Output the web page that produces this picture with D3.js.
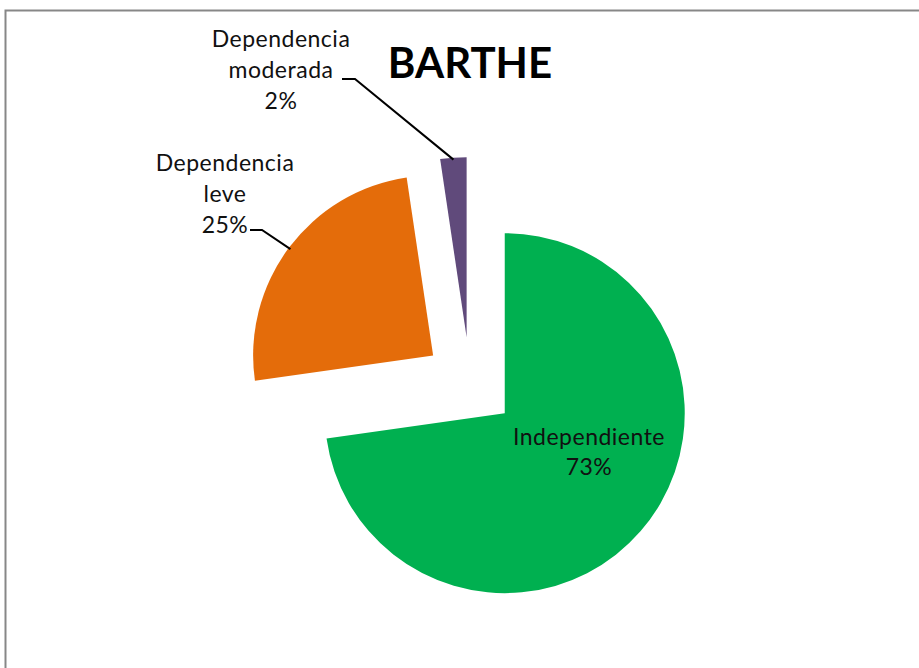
<!DOCTYPE html>
<html><head><meta charset="utf-8">
<script src="https://cdn.jsdelivr.net/npm/d3@7"></script>
<style>html,body{margin:0;padding:0;background:#fff;}svg{display:block;}</style>
</head><body>
<svg id="c" width="919" height="668"></svg>
<script>
const categories = ["Independiente", "Dependencia leve", "Dependencia moderada"];
const values = [72.75, 24.9, 2.35];
const percentLabels = ["73%", "25%", "2%"];
const labelLines = [["Independiente", "73%"], ["Dependencia", "leve", "25%"], ["Dependencia", "moderada", "2%"]];
const colors = ["#00B050", "#E46C0A", "#604A7B"];
const title = "BARTHE";

const svg = d3.select("#c");
const W = 919, H = 668;
const cx = 470, cy = 383, R = 180, explode = 46;
const font = "Lato, 'Open Sans', sans-serif";

// outer border
svg.append("rect").attr("x", 5.5).attr("y", 10.5).attr("width", 1000).attr("height", 1000)
  .attr("fill", "none").attr("stroke", "#878787").attr("stroke-width", 2);

const pie = d3.pie().sort(null).value(d => d).startAngle(0).endAngle(2 * Math.PI);
const arcs = pie(values);
const arc = d3.arc().innerRadius(0).outerRadius(R);

const g = svg.append("g").attr("transform", `translate(${cx},${cy})`);
function offset(d, dist) {
  const a = (d.startAngle + d.endAngle) / 2;
  return [Math.sin(a) * dist, -Math.cos(a) * dist];
}
g.selectAll("path.slice").data(arcs).enter().append("path")
  .attr("class", "slice")
  .attr("d", arc)
  .attr("fill", (d, i) => colors[i])
  .attr("transform", d => { const o = offset(d, explode); return `translate(${o[0]},${o[1]})`; });

// title
svg.append("text").attr("x", 470).attr("y", 78).attr("text-anchor", "middle")
  .attr("font-family", font).attr("font-weight", "bold").attr("font-size", 42)
  .attr("fill", "#000").text(title);

// labels
const labelPos = [
  { x: 589, y: 445, line: null },
  { x: 225, y: 171, line: [[250, 230], [262, 230]] },
  { x: 281, y: 47, line: [[342, 79], [355, 79]] }
];
const lineH = 31;
arcs.forEach((d, i) => {
  const p = labelPos[i];
  const t = svg.append("text").attr("text-anchor", "middle")
    .attr("font-family", font).attr("font-size", 23).attr("letter-spacing", 0.5).attr("fill", "#111");
  labelLines[i].forEach((s, k) => {
    t.append("tspan").attr("x", p.x).attr("y", p.y + k * (i === 0 ? 30 : lineH)).text(s);
  });
  if (p.line) {
    const o = offset(d, explode);
    const e = offset(d, R - 2);
    const end = [cx + o[0] + e[0], cy + o[1] + e[1]];
    svg.append("path")
      .attr("d", d3.line()([p.line[0], p.line[1], end]))
      .attr("fill", "none").attr("stroke", "#000").attr("stroke-width", 2);
  }
});
</script>
</body></html>
